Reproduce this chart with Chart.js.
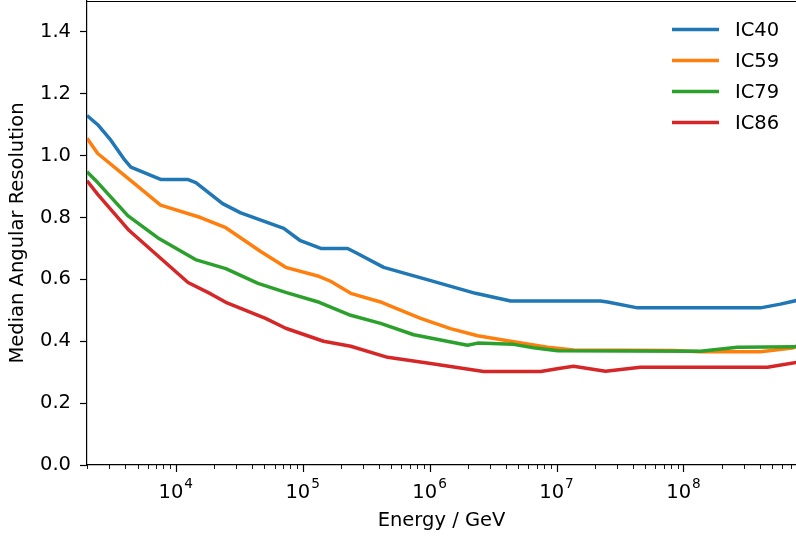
<!DOCTYPE html>
<html>
<head>
<meta charset="utf-8">
<script src="https://cdn.jsdelivr.net/npm/chart.js@4.4.0/dist/chart.umd.min.js"></script>
<style>
  html, body { margin: 0; padding: 0; background: #fff; }
  #wrap { width: 796px; height: 540px; }
</style>
</head>
<body>
<div id="wrap"><canvas id="chart-canvas" width="796" height="540"></canvas></div>
<script>
const labels = ['IC40', 'IC59', 'IC79', 'IC86'];
const colors = ['#1f77b4', '#ff7f0e', '#2ca02c', '#d62728'];

// energies in GeV, resolution in degrees
const ic40Energy = [2.0e3, 2.43e3, 3.08e3, 3.9e3, 4.43e3, 7.6e3, 1.24e4, 1.44e4, 2.34e4, 3.25e4, 7.1e4, 9.6e4, 1.39e5, 2.26e5, 2.61e5, 4.35e5, 1.02e6, 2.3e6, 4.35e6, 2.22e7, 2.52e7, 4.35e7, 4.04e8, 5.8e8, 7.8e8];
const ic40Res = [1.13, 1.10, 1.05, 0.99, 0.963, 0.923, 0.923, 0.913, 0.845, 0.815, 0.765, 0.725, 0.70, 0.70, 0.687, 0.639, 0.596, 0.555, 0.530, 0.530, 0.527, 0.508, 0.508, 0.52, 0.532];

const ic59Energy = [2.0e3, 2.43e3, 4.43e3, 7.6e3, 1.57e4, 2.48e4, 4.67e4, 7.35e4, 1.34e5, 1.66e5, 2.39e5, 4.11e5, 4.67e5, 8.5e5, 1.46e6, 2.39e6, 4.35e6, 8.5e6, 1.36e7, 8.3e7, 1.36e8, 4.04e8, 7.2e8, 7.8e8];
const ic59Res = [1.056, 1.007, 0.919, 0.84, 0.80, 0.767, 0.69, 0.639, 0.61, 0.594, 0.555, 0.527, 0.518, 0.474, 0.441, 0.418, 0.40, 0.381, 0.372, 0.370, 0.366, 0.366, 0.378, 0.385];

const ic79Energy = [2.0e3, 2.43e3, 4.19e3, 7.2e3, 1.43e4, 2.48e4, 4.45e4, 7.35e4, 1.35e5, 2.39e5, 4.11e5, 7.5e5, 1.99e6, 2.39e6, 4.58e6, 6.6e6, 1.02e7, 1.36e8, 2.66e8, 7.8e8];
const ic79Res = [0.948, 0.913, 0.806, 0.735, 0.664, 0.635, 0.587, 0.558, 0.526, 0.484, 0.458, 0.421, 0.387, 0.394, 0.39, 0.379, 0.369, 0.368, 0.381, 0.382];

const ic86Energy = [2.0e3, 2.43e3, 4.3e3, 1.25e4, 1.89e4, 2.48e4, 5.1e4, 7.35e4, 1.46e5, 2.39e5, 4.67e5, 1.02e6, 2.66e6, 7.5e6, 1.07e7, 1.36e7, 2.43e7, 4.58e7, 4.58e8, 7.8e8];
const ic86Res = [0.919, 0.875, 0.758, 0.59, 0.553, 0.526, 0.474, 0.442, 0.40, 0.384, 0.348, 0.328, 0.302, 0.302, 0.313, 0.319, 0.303, 0.316, 0.316, 0.332];

const xMajorTicks = [1e4, 1e5, 1e6, 1e7, 1e8];
const yTicks = [0, 0.2, 0.4, 0.6, 0.8, 1.0, 1.2, 1.4];

const FONT = 'DejaVu Sans';
const FS = 19.5;
const ctx = document.querySelector('#chart-canvas').getContext('2d');

const toPoints = (energy, res) => energy.map((e, i) => ({ x: e, y: res[i] }));
const series = [
	toPoints(ic40Energy, ic40Res),
	toPoints(ic59Energy, ic59Res),
	toPoints(ic79Energy, ic79Res),
	toPoints(ic86Energy, ic86Res),
];

// later series sit on top, like the plotting order
const datasets = series.map((data, i) => ({
	label: labels[i],
	data,
	borderColor: colors[i],
	backgroundColor: colors[i],
	borderWidth: 3.5,
	pointRadius: 0,
	tension: 0,
	borderJoinStyle: 'round',
	order: series.length - i,
}));

// x ticks (major + minor), mathtext-style labels, top spine and legend
const decorations = {
	id: 'decorations',
	afterDraw(chart) {
		const { ctx, chartArea } = chart;
		const xs = chart.scales.x;
		ctx.save();
		ctx.strokeStyle = '#000';
		ctx.lineWidth = 1.2;

		// top spine
		ctx.beginPath();
		ctx.moveTo(chartArea.left, chartArea.top + 0.5);
		ctx.lineTo(chartArea.right, chartArea.top + 0.5);
		ctx.stroke();

		const base = chartArea.bottom;
		for (let d = 1e3; d <= 1e9; d *= 10) {
			for (let m = 1; m <= 9; m++) {
				const v = d * m;
				if (v < xs.min || v > xs.max) continue;
				const px = Math.round(xs.getPixelForValue(v)) + 0.5;
				const len = m === 1 ? 7 : 4;
				ctx.lineWidth = m === 1 ? 1.2 : 0.9;
				ctx.beginPath();
				ctx.moveTo(px, base);
				ctx.lineTo(px, base + len);
				ctx.stroke();
			}
		}

		ctx.fillStyle = '#000';
		ctx.textBaseline = 'alphabetic';
		xMajorTicks.forEach(v => {
			const px = xs.getPixelForValue(v);
			const exp = String(Math.round(Math.log10(v)));
			ctx.font = `${FS}px "${FONT}"`;
			const wBase = ctx.measureText('10').width;
			ctx.font = `${FS * 0.7}px "${FONT}"`;
			const wExp = ctx.measureText(exp).width;
			const x0 = px - (wBase + wExp + 1) / 2;
			ctx.font = `${FS}px "${FONT}"`;
			ctx.textAlign = 'left';
			ctx.fillText('10', x0, base + 33);
			ctx.font = `${FS * 0.7}px "${FONT}"`;
			ctx.fillText(exp, x0 + wBase + 1, base + 23);
		});

		// legend
		ctx.font = `${FS}px "${FONT}"`;
		ctx.textBaseline = 'middle';
		chart.data.datasets.forEach((ds, i) => {
			const y = 29.5 + i * 31;
			ctx.strokeStyle = ds.borderColor;
			ctx.lineWidth = 3.5;
			ctx.beginPath();
			ctx.moveTo(672, y);
			ctx.lineTo(719, y);
			ctx.stroke();
			ctx.fillStyle = '#000';
			ctx.fillText(ds.label, 735, y + 1);
		});
		ctx.restore();
	}
};

new Chart(ctx, {
	type: 'line',
	data: { datasets },
	options: {
		responsive: false,
		animation: false,
		layout: { padding: { top: 1, right: 0, left: 0, bottom: 0 } },
		plugins: {
			legend: { display: false },
			tooltip: { enabled: false },
		},
		scales: {
			x: {
				type: 'logarithmic',
				min: 2000,
				max: 7.7e8,
				afterFit: scale => {
					scale.height = 75;
					scale.paddingLeft = 0;
					scale.paddingRight = 0;
				},
				grid: { display: false },
				border: { display: true, color: '#000', width: 1.2 },
				ticks: { display: false },
				title: {
					display: true,
					text: 'Energy / GeV',
					color: '#000',
					font: { family: FONT, size: FS },
					padding: { top: 0, bottom: 7 },
				},
			},
			y: {
				type: 'linear',
				min: 0,
				max: 1.5,
				afterFit: scale => {
					scale.width = 87;
					scale.paddingTop = 0;
					scale.paddingBottom = 0;
				},
				afterBuildTicks: scale => {
					scale.ticks = yTicks.map(v => ({ value: v }));
				},
				grid: {
					drawOnChartArea: false,
					drawTicks: true,
					tickLength: 7,
					tickWidth: 1.2,
					tickColor: '#000',
				},
				border: { display: true, color: '#000', width: 1.2 },
				ticks: {
					color: '#000',
					padding: 9,
					font: { family: FONT, size: FS },
					callback: v => v.toFixed(1),
				},
				title: {
					display: true,
					text: 'Median Angular Resolution',
					color: '#000',
					font: { family: FONT, size: FS },
					padding: { top: 6, bottom: 0 },
				},
			},
		},
	},
	plugins: [decorations],
});
</script>
</body>
</html>
